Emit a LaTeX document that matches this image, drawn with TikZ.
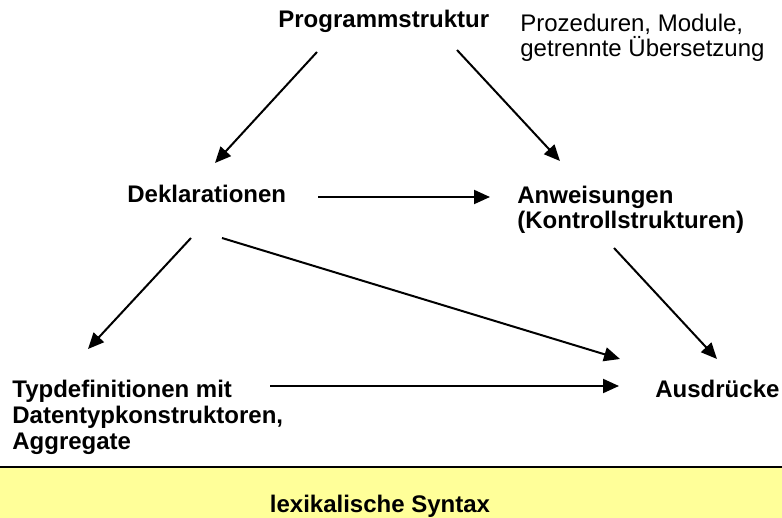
\documentclass[tikz,border=0pt]{standalone}
\usepackage{fontspec}
\setmainfont{Liberation Sans}
\usepackage{tikz}
\usetikzlibrary{
  arrows.meta,
  calc,
  positioning
}
\definecolor{lexyellow}{HTML}{FFFF99}
\tikzset{
  concept/.style={
    anchor=base west, inner sep=0pt, align=left,
    font=\fontsize{12}{13}\selectfont\bfseries
  },
  remark/.style={
    anchor=base west, inner sep=0pt, align=left,
    font=\fontsize{12}{12.5}\selectfont
  },
  arrow/.style={-{Triangle[length=8pt, width=7pt]}, line width=1pt},
}

\begin{document}
\begin{tikzpicture}[x=0.5pt, y=0.5pt]
\useasboundingbox (0,0) rectangle (782,-518);

% Language levels (top to bottom), base = last line
\node[concept] (prog) at (278,-28) {Programmstruktur};
\node[remark] (proz) at (520,-57) {Prozeduren, Module,\\getrennte Übersetzung};
\node[concept] (dekl) at (127,-203) {Deklarationen};
\node[concept] (anw) at (517,-229) {Anweisungen\\(Kontrollstrukturen)};
\node[concept] (typ) at (12,-449) {Typdefinitionen mit\\Datentypkonstruktoren,\\Aggregate};
\node[concept] (ausdr) at (655,-397) {Ausdrücke};

% Lexical layer at the bottom
\fill[lexyellow] (0,-467) rectangle (782,-518);
\draw[line width=1pt] (0,-467) -- (782,-467);
\node[concept, anchor=base] (lex) at (380,-512) {lexikalische Syntax};

% Arrows
\draw[arrow] ($(prog.base west)+(39,-24)$) -- ($(dekl.base west)+(88,40)$);
\draw[arrow] ($(prog.base west)+(179,-22)$) -- ($(anw.base west)+(43,68)$);
\draw[arrow] ($(dekl.base west)+(191,6)$) -- ($(anw.base west)+(-27,32)$);
\draw[arrow] ($(dekl.base west)+(64,-35)$) -- ($(typ.base west)+(76,100)$);
\draw[arrow] ($(dekl.base west)+(95,-35)$) -- ($(ausdr.base west)+(-35,38)$);
\draw[arrow] ($(anw.base west)+(97,-19)$) -- ($(ausdr.base west)+(62,38)$);
\draw[arrow] ($(typ.base west)+(258,63)$) -- ($(ausdr.base west)+(-36,11)$);

\end{tikzpicture}
\end{document}
